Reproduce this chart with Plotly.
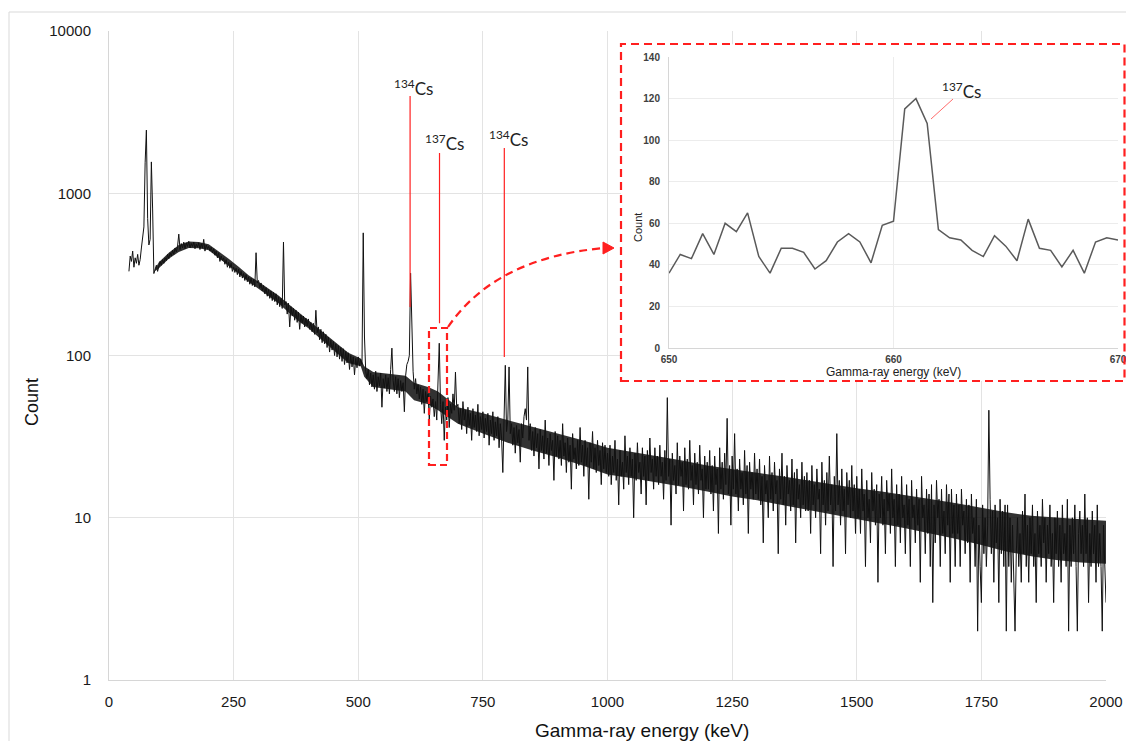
import numpy as np
import plotly.graph_objects as go

# ---------------- data ----------------
ENERGY_START_KEV = 40.0
CHANNEL_STEP_KEV = 2.5

counts_0040 = [330, 410, 380, 440, 350, 400, 370, 420, 360, 390, 460, 560, 620, 1540, 2450, 700,
               480, 520, 1560, 800, 320, 340, 360, 330]
counts_0100 = [350, 380, 360, 390, 370, 400, 385, 420, 395, 430, 410, 445, 420, 460, 435, 470, 560, 450, 490, 460,
               500, 455, 495, 470, 505, 460, 490, 470, 500, 455, 485, 465, 495, 450, 490, 460, 520, 440, 480, 455]
counts_0200 = [470, 440, 465, 430, 455, 415, 440, 400, 430, 380, 410, 385, 400, 365, 390, 350, 375, 345, 370, 330,
               350, 325, 345, 315, 340, 305, 330, 300, 320, 290, 315, 285, 305, 275, 300, 270, 295, 265, 430, 280]
counts_0300 = [290, 260, 280, 250, 270, 240, 262, 232, 255, 225, 250, 218, 245, 215, 240, 205, 230, 200, 225, 195,
               500, 205, 215, 180, 210, 150, 200, 175, 195, 165, 190, 160, 185, 145, 178, 158, 175, 150, 170, 152]
counts_0400 = [168, 145, 160, 140, 158, 135, 190, 138, 150, 125, 145, 120, 140, 118, 135, 112, 130, 105, 125, 108,
               122, 100, 118, 98, 115, 95, 112, 92, 110, 88, 106, 90, 104, 82, 100, 85, 98, 76, 96, 84]
counts_0500 = [98, 86, 95, 88, 570, 130, 80, 72, 82, 66, 78, 64, 76, 62, 80, 60, 74, 65, 78, 48,
               72, 63, 76, 60, 73, 58, 82, 111, 70, 60, 74, 58, 72, 55, 70, 60, 68, 45, 75, 88]
counts_0600 = [92, 100, 322, 150, 80, 62, 72, 58, 66, 54, 64, 50, 62, 44, 60, 52, 58, 40, 56, 48,
               54, 42, 52, 40, 61, 119, 50, 38, 52, 30, 48, 40, 55, 36, 50, 44, 58, 46, 79, 48]
counts_0700 = [50, 38, 47, 35, 52, 40, 46, 33, 48, 37, 44, 30, 47, 36, 43, 34, 50, 32, 42, 35,
               45, 31, 41, 34, 44, 28, 40, 33, 45, 30, 39, 32, 42, 27, 38, 31, 19, 36, 87, 34]
counts_0800 = [40, 85, 33, 38, 28, 36, 25, 37, 29, 35, 22, 38, 31, 42, 47, 40, 85, 30, 38, 26,
               34, 24, 36, 27, 33, 20, 35, 26, 32, 23, 40, 25, 31, 21, 33, 26, 30, 17, 34, 24]
counts_0900 = [32, 23, 30, 21, 38, 24, 29, 19, 31, 22, 28, 15, 33, 23, 27, 20, 30, 21, 36, 22,
               28, 18, 30, 21, 27, 13, 29, 22, 34, 20, 27, 19, 30, 21, 26, 16, 29, 20, 28, 19]
counts_1000 = [25, 18, 28, 16, 24, 19, 30, 17, 23, 12, 26, 18, 22, 15, 32, 19, 24, 16, 27, 18,
               23, 10, 25, 17, 29, 19, 22, 14, 27, 18, 24, 12, 26, 17, 31, 19, 23, 15, 27, 18]
counts_1100 = [24, 16, 28, 18, 22, 13, 26, 17, 55, 18, 23, 9, 25, 17, 21, 14, 29, 16, 24, 18,
               22, 11, 27, 16, 23, 15, 30, 17, 21, 12, 25, 16, 22, 14, 28, 17, 20, 10, 24, 15]
counts_1200 = [22, 15, 26, 14, 21, 11, 24, 16, 20, 8, 27, 15, 22, 13, 25, 16, 41, 14, 21, 9,
               24, 15, 33, 14, 20, 11, 23, 15, 19, 12, 26, 14, 21, 8, 22, 15, 19, 13, 25, 14]
counts_1300 = [20, 13, 23, 12, 18, 7, 21, 14, 17, 10, 24, 13, 19, 11, 22, 14, 17, 6, 20, 13,
               25, 12, 18, 9, 21, 14, 17, 11, 23, 12, 19, 7, 20, 13, 16, 10, 22, 12, 18, 11]
counts_1400 = [19, 11, 17, 8, 21, 12, 16, 10, 20, 13, 15, 6, 22, 12, 17, 9, 19, 11, 24, 12,
               16, 5, 18, 11, 33, 12, 17, 9, 20, 11, 15, 6, 19, 12, 17, 10, 21, 11, 16, 8]
counts_1500 = [18, 10, 15, 8, 20, 11, 14, 5, 17, 10, 13, 7, 19, 11, 15, 9, 16, 4, 14, 10,
               18, 9, 13, 6, 17, 11, 14, 8, 20, 10, 13, 5, 16, 9, 14, 7, 18, 10, 12, 6]
counts_1600 = [16, 9, 13, 5, 17, 10, 12, 7, 15, 9, 13, 4, 18, 10, 12, 6, 15, 8, 14, 5,
               16, 3, 12, 7, 17, 10, 13, 5, 15, 8, 11, 6, 16, 9, 14, 4, 15, 8, 12, 5]
counts_1700 = [14, 8, 12, 5, 15, 9, 11, 6, 13, 7, 12, 4, 14, 8, 10, 5, 13, 2, 9, 5,
               3, 12, 6, 10, 5, 9, 46, 13, 6, 11, 4, 12, 7, 10, 3, 13, 6, 11, 5, 12]
counts_1800 = [2, 12, 5, 10, 4, 9, 5, 2, 6, 10, 5, 8, 4, 11, 6, 14, 5, 9, 4, 10,
               6, 12, 5, 8, 3, 11, 6, 9, 5, 13, 7, 10, 4, 9, 6, 12, 5, 8, 3, 10]
counts_1900 = [6, 11, 5, 9, 4, 12, 6, 8, 5, 13, 2, 9, 5, 10, 6, 12, 5, 2, 8, 11,
               6, 9, 5, 14, 6, 10, 3, 8, 5, 11, 6, 9, 4, 12, 5, 8, 5, 2, 9, 5, 3]

spectrum_counts = (counts_0040 + counts_0100 + counts_0200 + counts_0300 + counts_0400 +
                   counts_0500 + counts_0600 + counts_0700 + counts_0800 + counts_0900 +
                   counts_1000 + counts_1100 + counts_1200 + counts_1300 + counts_1400 +
                   counts_1500 + counts_1600 + counts_1700 + counts_1800 + counts_1900)
spectrum_energy = ENERGY_START_KEV + CHANNEL_STEP_KEV * np.arange(len(spectrum_counts))

# dense core of the noisy band (where the many channel lines overlap into solid black)
core_energy = [92, 100, 120, 140, 160, 180, 200, 220, 240, 260, 280, 300, 320, 340, 360, 380, 400, 420,
               440, 460, 480, 505, 512, 530, 560, 595, 612, 640, 660, 700, 750, 800, 850, 900, 950,
               1000, 1050, 1100, 1150, 1200, 1250, 1300, 1350, 1400, 1450, 1500, 1550, 1600, 1650,
               1700, 1750, 1800, 1850, 1900, 1950, 2000]
core_low = [330, 345, 395, 435, 460, 458, 445, 400, 360, 320, 285, 258, 232, 210, 185, 163, 147, 130,
            115, 101, 90, 86, 74, 64, 62, 60, 53, 50, 46, 38, 33, 29, 26, 23.5, 21,
            18.5, 17.5, 16.5, 15.5, 14.5, 13.5, 12.8, 12, 11.2, 10.5, 9.8, 9.2, 8.6, 8,
            7.4, 6.8, 6.2, 5.8, 5.5, 5.3, 5.2]
core_high = [340, 375, 430, 480, 505, 500, 485, 440, 395, 352, 312, 285, 258, 234, 208, 185, 165, 147,
             131, 116, 104, 96, 86, 79, 77, 75, 68, 64, 60, 48, 44, 40, 36, 33, 30,
             27, 25.5, 24, 22.5, 21, 20, 19, 18, 17, 16, 15.2, 14.5, 13.8, 13,
             12.3, 11.5, 10.8, 10.3, 10, 9.8, 9.6]

# zoomed inset (650-670 keV, 0.5 keV channels)
inset_start_kev = 650.0
inset_step_kev = 0.5
inset_counts = [36, 45, 43, 55, 45, 60, 56, 65, 44, 36, 48, 48, 46, 38, 42, 51, 55, 51, 41, 59, 61,
                115, 120, 108, 57, 53, 52, 47, 44, 54, 49, 42, 62, 48, 47, 39, 47, 36, 51, 53, 52]
inset_energy = inset_start_kev + inset_step_kev * np.arange(len(inset_counts))

# peak markers (energy keV, line bottom count, line top count, label)
marker_energy = [604, 663, 793]
marker_low = [199, 158, 98]
marker_high = [3975, 1770, 1900]
marker_labels = ["<sup>134</sup>Cs", "<sup>137</sup>Cs", "<sup>134</sup>Cs"]

x_ticks = [0, 250, 500, 750, 1000, 1250, 1500, 1750, 2000]
y_ticks = [1, 10, 100, 1000, 10000]
inset_x_ticks = [650, 660, 670]
inset_y_ticks = [0, 20, 40, 60, 80, 100, 120, 140]

# ---------------- layout geometry (window pixels; page body has an 8px margin) ----------------
OFF = 8
W, H = 1134 - 2 * OFF, 749 - 2 * OFF
PLOT_L, PLOT_R, PLOT_T, PLOT_B = 109, 1126, 31, 680      # plot area in window pixels
ML, MT = PLOT_L - OFF, PLOT_T - OFF
MR, MB = W - (PLOT_R - OFF), H - (PLOT_B - OFF)
PW, PH = PLOT_R - PLOT_L, PLOT_B - PLOT_T


def fx(px):
    return (px - PLOT_L) / PW


def fy(py):
    return (PLOT_B - py) / PH


RED = "#ff1f1f"
FONT = "Liberation Sans, Arial, sans-serif"
LABEL_FONT = "Lato, Open Sans, sans-serif"

fig = go.Figure()

# white patch behind the inset (hides the main grid there); in data coords of the main axes
fig.add_trace(go.Scatter(x=[1027, 2100, 2100, 1027, 1027], y=[69.6, 69.6, 8300, 8300, 69.6],
                         mode="lines", fill="toself", fillcolor="white", line=dict(width=0, color="white"),
                         xaxis="x", yaxis="y", hoverinfo="skip", showlegend=False))

# dense core band
fig.add_trace(go.Scatter(x=core_energy, y=core_low, mode="lines", line=dict(width=0, color="#111111"),
                         xaxis="x", yaxis="y", hoverinfo="skip", showlegend=False))
fig.add_trace(go.Scatter(x=core_energy, y=core_high, mode="lines", line=dict(width=0, color="#111111"),
                         fill="tonexty", fillcolor="rgba(5,5,5,0.82)",
                         xaxis="x", yaxis="y", hoverinfo="skip", showlegend=False))

fig.add_trace(go.Scatter(x=spectrum_energy, y=spectrum_counts, mode="lines",
                         line=dict(color="#111111", width=1), xaxis="x", yaxis="y",
                         hoverinfo="skip", showlegend=False))

# red marker lines, one trace with gaps
mk_x, mk_y = [], []
for e, lo, hi in zip(marker_energy, marker_low, marker_high):
    mk_x += [e, e, None]
    mk_y += [lo, hi, None]
fig.add_trace(go.Scatter(x=mk_x, y=mk_y, mode="lines", connectgaps=False,
                         line=dict(color=RED, width=1.2), xaxis="x", yaxis="y",
                         hoverinfo="skip", showlegend=False))

fig.add_trace(go.Scatter(x=inset_energy, y=inset_counts, mode="lines",
                         line=dict(color="#5a5a5a", width=1.5), xaxis="x2", yaxis="y2",
                         hoverinfo="skip", showlegend=False))

shapes = []
# outer frame (left and top edges visible)
shapes.append(dict(type="rect", xref="paper", yref="paper", x0=fx(9), x1=fx(1160), y0=fy(765), y1=fy(12),
                   line=dict(color="#d9d9d9", width=1), fillcolor="rgba(0,0,0,0)", layer="below"))
# dashed rectangle around 661 keV
shapes.append(dict(type="rect", xref="paper", yref="paper", x0=fx(429), x1=fx(447), y0=fy(465), y1=fy(328),
                   line=dict(color=RED, width=2.2, dash="7px,4px"), fillcolor="rgba(0,0,0,0)"))
# inset dashed frame
shapes.append(dict(type="rect", xref="paper", yref="paper", x0=fx(621), x1=fx(1124.5), y0=fy(381), y1=fy(44),
                   line=dict(color=RED, width=2.2, dash="8px,5px"), fillcolor="rgba(0,0,0,0)"))
# curved dashed arrow
p0, c, p2 = (448, 327), (495, 258), (604, 248)
shapes.append(dict(type="path", xref="paper", yref="paper",
                   path=f"M {fx(p0[0])},{fy(p0[1])} Q {fx(c[0])},{fy(c[1])} {fx(p2[0])},{fy(p2[1])}",
                   line=dict(color=RED, width=2.2, dash="8px,5px")))
shapes.append(dict(type="path", xref="paper", yref="paper",
                   path=f"M {fx(614)},{fy(248)} L {fx(603)},{fy(242)} L {fx(603)},{fy(254)} Z",
                   line=dict(color=RED, width=1), fillcolor=RED))
# inset leader line
shapes.append(dict(type="line", xref="paper", yref="paper", x0=fx(953), y0=fy(99), x1=fx(931), y1=fy(119),
                   line=dict(color="#ff6b6b", width=1)))

annotations = []
label_px = [(413, 87), (444, 143), (508, 138)]
for (lx, ly), txt in zip(label_px, marker_labels):
    annotations.append(dict(xref="paper", yref="paper", x=fx(lx), y=fy(ly), text=txt, showarrow=False,
                            xanchor="center", yanchor="middle",
                            font=dict(family=LABEL_FONT, size=17, color="#222222")))
annotations.append(dict(xref="paper", yref="paper", x=fx(961), y=fy(91), text="<sup>137</sup>Cs",
                        showarrow=False, xanchor="center", yanchor="middle",
                        font=dict(family=LABEL_FONT, size=17, color="#222222")))
annotations.append(dict(xref="paper", yref="paper", x=fx(642), y=fy(730), text="Gamma-ray energy (keV)",
                        showarrow=False, xanchor="center", yanchor="middle",
                        font=dict(family=FONT, size=19, color="#111111")))
annotations.append(dict(xref="paper", yref="paper", x=fx(32), y=fy(402), text="Count", textangle=-90,
                        showarrow=False, xanchor="center", yanchor="middle",
                        font=dict(family=FONT, size=18, color="#111111")))
annotations.append(dict(xref="paper", yref="paper", x=fx(893), y=fy(372), text="Gamma-ray energy (keV)",
                        showarrow=False, xanchor="center", yanchor="middle",
                        font=dict(family=FONT, size=12, color="#222222")))
annotations.append(dict(xref="paper", yref="paper", x=fx(638), y=fy(228), text="Count", textangle=-90,
                        showarrow=False, xanchor="center", yanchor="middle",
                        font=dict(family=FONT, size=11, color="#222222")))

fig.update_layout(
    width=W, height=H, autosize=False,
    margin=dict(l=ML, r=MR, t=MT, b=MB, pad=0, autoexpand=False),
    paper_bgcolor="white", plot_bgcolor="white",
    showlegend=False, hovermode=False,
    shapes=shapes, annotations=annotations,
    xaxis=dict(domain=[0, fx(1106)], range=[0, 2000], tickvals=x_ticks, automargin=False,
               ticktext=[str(v) for v in x_ticks], showgrid=True, gridcolor="#e3e3e3", gridwidth=1,
               zeroline=False, showline=True, linecolor="#d6d6d6", linewidth=1, ticks="",
               ticklabelstandoff=8, tickfont=dict(family=FONT, size=15, color="#1a1a1a"), anchor="y"),
    yaxis=dict(type="log", range=[0, 4], tickvals=y_ticks, ticktext=[str(v) for v in y_ticks],
               automargin=False,
               showgrid=True, gridcolor="#e3e3e3", gridwidth=1, zeroline=False, showline=True,
               linecolor="#d6d6d6", linewidth=1, ticks="", ticklabelstandoff=14,
               tickfont=dict(family=FONT, size=15, color="#1a1a1a"), anchor="x"),
    xaxis2=dict(domain=[fx(669), fx(1118)], range=[650, 670], tickvals=inset_x_ticks, automargin=False,
                showgrid=True, gridcolor="#ececec", zeroline=False, showline=True, linecolor="#d6d6d6",
                ticks="", ticklabelstandoff=2, anchor="y2", ticklabeloverflow="allow",
                tickfont=dict(family=FONT, size=10, color="#404040", weight="bold")),
    yaxis2=dict(domain=[fy(348), fy(57)], range=[0, 140], tickvals=inset_y_ticks, automargin=False,
                showgrid=True, gridcolor="#ececec", zeroline=False, showline=True, linecolor="#d6d6d6",
                ticks="", ticklabelstandoff=6, anchor="x2",
                tickfont=dict(family=FONT, size=10, color="#404040", weight="bold")),
)

fig.write_html("out.html", config={"displayModeBar": False})
